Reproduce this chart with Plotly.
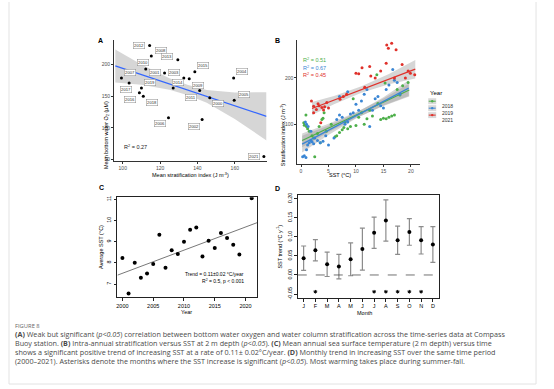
import plotly.graph_objects as go

W, H = 554, 389
def fx(p): return p / W
def fy(p): return 1 - p / H

# ---------------- Panel A data ----------------
a_years = ["2000", "2001", "2002", "2003", "2004", "2005", "2006", "2007", "2008", "2009", "2010",
           "2011", "2012", "2013", "2014", "2015", "2016", "2017", "2018", "2019", "2021"]
a_strat = [146.6, 122.4, 142.5, 132.7, 159.4, 159.7, 124.5, 99.3, 115.3, 135.6, 112.3,
           141.2, 114.4, 129.5, 127.0, 138.6, 108.9, 103.4, 111.0, 110.0, 175.6]
a_oxygen = [147.4, 186.5, 113.0, 178.6, 178.6, 143.7, 116.1, 178.6, 213.5, 177.6, 192.7,
            158.9, 229.7, 207.3, 163.0, 188.6, 155.2, 170.8, 150.0, 163.0, 55.0]
a_fit_x = [96, 110, 125, 135, 145, 160, 177]
a_fit_y = [197.7, 184.0, 169.2, 159.4, 149.6, 134.9, 118.2]
a_ci_upper = [223.7, 200.0, 178.2, 167.4, 159.6, 155.9, 156.2]
a_ci_lower = [171.7, 168.0, 160.2, 151.4, 139.6, 113.9, 80.2]
# label offsets (styling, pixels)
a_lab_dx = [7, -8, -7, -8, 7, 8, -7, 7, 8, 7, -2, -7, -9, -9, 4, 7, -8, -3, 7, 7, -8]
a_lab_dy = [-5, 0, -6, 5, 6, 5, -5, 5, 5, -6, 6, -6, 0, 3, 5, 6, -6, -6, -6, 5, 0]

# ---------------- Panel B data ----------------
b_sst_2018 = [0.9, 0.5, 0.6, 1.0, 1.2, 1.5, 2.5, 2.0, 2.3, 3.0, 3.3, 3.5, 3.8, 4.0, 4.2, 4.6, 5.5,
              6.2, 6.5, 7.0, 7.5, 7.8, 8.0, 8.5, 9.0, 9.5, 10.0, 10.5, 11.0, 11.5, 12.0, 12.5,
              13.0, 13.8, 14.5, 15.0, 15.5, 16.0, 16.5, 17.0, 17.5, 18.0, 18.5, 19.5, 15.3, 14.0]
b_str_2018 = [120, 103, 98, 95, 90, 85, 30, 75, 70, 80, 95, 60, 110, 113, 125, 85, 100,
              73, 75, 82, 88, 93, 105, 90, 95, 155, 97, 115, 125, 100, 112, 130,
              118, 207, 110, 113, 112, 115, 118, 120, 175, 163, 183, 190, 189, 145]
b_sst_2019 = [0.3, 0.6, 0.9, 1.0, 1.2, 1.5, 1.8, 2.0, 2.3, 0.8, 1.0, 1.3, 1.8, 2.5, 3.0, 3.5, 4.0,
              5.0, 4.5, 6.0, 6.5, 7.0, 7.5, 8.0, 8.5, 9.0, 9.5, 10.0, 10.5, 11.0, 11.5, 12.0,
              12.5, 13.0, 13.5, 14.0, 14.5, 15.0, 15.5, 16.0, 16.7, 17.0, 17.5, 18.0, 7.0, 8.5]
b_str_2019 = [30, 32, 28, 45, 55, 60, 65, 62, 58, 105, 100, 95, 85, 70, 65, 60, 63,
              55, 75, 70, 110, 120, 115, 100, 105, 122, 125, 143, 130, 150, 165, 175,
              95, 130, 155, 160, 140, 135, 175, 185, 218, 195, 190, 165, 160, 170]
b_sst_2021 = [1.9, 2.3, 2.3, 2.8, 3.1, 3.3, 3.6, 3.8, 4.1, 4.3, 4.7, 5.0, 7.1, 7.7, 8.3, 10.0,
              10.5, 11.1, 11.6, 12.5, 12.7, 13.5, 15.5, 15.6, 15.9, 16.5, 17.3, 18.4, 19.5,
              19.9, 20.7, 19.0, 17.0, 14.5]
b_str_2021 = [150, 139, 125, 132, 144, 140, 103, 136, 131, 138, 147, 135, 154, 160, 165, 210,
              209, 222, 180, 225, 204, 200, 232, 271, 264, 275, 261, 229, 215,
              210, 207, 200, 200, 215]
b_fit_x_2018 = [0.2, 5, 10, 15, 19.7]
b_fit_y_2018 = [65.0, 91.8, 119.7, 147.6, 173.9]
b_hw_2018 = [15, 9, 6, 8, 14]
b_fit_x_2019 = [0.2, 5, 10, 15, 19.6]
b_fit_y_2019 = [57.0, 87.0, 118.2, 149.4, 178.0]
b_hw_2019 = [18, 10, 6, 9, 17]
b_fit_x_2021 = [2, 6, 11, 16, 20.8]
b_fit_y_2021 = [134, 152, 175, 197.5, 219]
b_hw_2021 = [14, 9, 7, 11, 20]
b_r2 = ["R<sup>2</sup> = 0.51", "R<sup>2</sup> = 0.67", "R<sup>2</sup> = 0.45"]
b_years = ["2018", "2019", "2021"]

# ---------------- Panel C data ----------------
c_year = [2000, 2001, 2002, 2003, 2004, 2005, 2006, 2007, 2008, 2009, 2010,
          2011, 2012, 2013, 2014, 2015, 2016, 2017, 2018, 2019, 2021]
c_sst = [8.23, 6.55, 8.0, 7.3, 7.5, 7.95, 9.33, 7.77, 8.6, 8.42, 9.0,
         9.56, 9.67, 8.3, 9.04, 8.7, 9.41, 9.17, 8.86, 8.39, 11.05]
c_fit_x = [1999.2, 2021.9]
c_fit_y = [7.42, 9.90]

# ---------------- Panel D data ----------------
d_month = list(range(1, 13))
d_month_labels = ["J", "F", "M", "A", "M", "J", "J", "A", "S", "O", "N", "D"]
d_trend = [0.044, 0.065, 0.028, 0.022, 0.041, 0.068, 0.111, 0.143, 0.091, 0.113, 0.091, 0.080]
d_err = [0.032, 0.028, 0.032, 0.032, 0.043, 0.055, 0.041, 0.054, 0.037, 0.035, 0.036, 0.047]
d_signif = [False, True, False, False, False, False, True, True, True, True, True, False]

COL = {"2018": "#4DAF4A", "2019": "#3A86D4", "2021": "#E0312B"}
FONT = "Liberation Sans, Arial, sans-serif"

fig = go.Figure()

# Panel A
fig.add_trace(go.Scatter(x=a_fit_x + a_fit_x[::-1], y=a_ci_upper + a_ci_lower[::-1], fill="toself",
                         fillcolor="rgba(153,153,153,0.4)", line=dict(width=0), mode="lines",
                         hoverinfo="skip", showlegend=False, xaxis="x", yaxis="y"))
fig.add_trace(go.Scatter(x=a_fit_x, y=a_fit_y, mode="lines", line=dict(color="#3366FF", width=1.2),
                         showlegend=False, xaxis="x", yaxis="y"))
fig.add_trace(go.Scatter(x=a_strat, y=a_oxygen, mode="markers", marker=dict(color="black", size=3),
                         showlegend=False, xaxis="x", yaxis="y"))

# Panel B
for yr, xs, ys, fxs, fys, hw in [
        ("2018", b_sst_2018, b_str_2018, b_fit_x_2018, b_fit_y_2018, b_hw_2018),
        ("2019", b_sst_2019, b_str_2019, b_fit_x_2019, b_fit_y_2019, b_hw_2019),
        ("2021", b_sst_2021, b_str_2021, b_fit_x_2021, b_fit_y_2021, b_hw_2021)]:
    up = [a + b for a, b in zip(fys, hw)]
    lo = [a - b for a, b in zip(fys, hw)]
    fig.add_trace(go.Scatter(x=fxs + fxs[::-1], y=up + lo[::-1], fill="toself",
                             fillcolor="rgba(153,153,153,0.4)", line=dict(width=0), mode="lines",
                             hoverinfo="skip", showlegend=False, xaxis="x2", yaxis="y2"))
for yr, xs, ys, fxs, fys in [
        ("2018", b_sst_2018, b_str_2018, b_fit_x_2018, b_fit_y_2018),
        ("2019", b_sst_2019, b_str_2019, b_fit_x_2019, b_fit_y_2019),
        ("2021", b_sst_2021, b_str_2021, b_fit_x_2021, b_fit_y_2021)]:
    fig.add_trace(go.Scatter(x=xs, y=ys, mode="markers", marker=dict(color=COL[yr], size=3),
                             showlegend=False, xaxis="x2", yaxis="y2"))
    fig.add_trace(go.Scatter(x=fxs, y=fys, mode="lines", line=dict(color=COL[yr], width=1.2),
                             showlegend=False, xaxis="x2", yaxis="y2"))

# Panel C
fig.add_trace(go.Scatter(x=c_fit_x, y=c_fit_y, mode="lines", line=dict(color="#555555", width=0.8),
                         showlegend=False, xaxis="x3", yaxis="y3"))
fig.add_trace(go.Scatter(x=c_year, y=c_sst, mode="markers", marker=dict(color="black", size=4),
                         showlegend=False, xaxis="x3", yaxis="y3"))

# Panel D
fig.add_trace(go.Scatter(x=d_month, y=d_trend, mode="markers", marker=dict(color="black", size=4),
                         error_y=dict(type="data", array=d_err, color="#8c8c8c", thickness=1.2, width=2.5),
                         showlegend=False, xaxis="x4", yaxis="y4"))
sig_x = [m for m, s in zip(d_month, d_signif) if s]
fig.add_trace(go.Scatter(x=sig_x, y=[-0.044] * len(sig_x), mode="markers",
                         marker=dict(symbol="asterisk", color="black", size=3, line=dict(width=1, color="black")),
                         showlegend=False, xaxis="x4", yaxis="y4"))

gg_tick = dict(size=5, color="#4D4D4D", family=FONT)
r_tick = dict(size=5.5, color="black", family=FONT)
common = dict(showgrid=False, zeroline=False, showline=True, ticks="outside")

layout = dict(
    width=W, height=H, margin=dict(l=0, r=0, t=0, b=0),
    paper_bgcolor="white", plot_bgcolor="white", showlegend=False,
    font=dict(family=FONT),
    xaxis=dict(domain=[fx(113), fx(266)], range=[95.2, 177], tickvals=[100, 120, 140, 160],
               anchor="y", linecolor="#333", linewidth=0.6, ticklen=2, tickcolor="#333",
               tickwidth=0.6, tickfont=gg_tick, **common),
    yaxis=dict(domain=[fy(160.7), fy(38)], range=[47, 239], tickvals=[50, 100, 150, 200],
               anchor="x", linecolor="#333", linewidth=0.6, ticklen=2, tickcolor="#333",
               tickwidth=0.6, tickfont=gg_tick, **common),
    xaxis2=dict(domain=[fx(296.7), fx(420)], range=[-0.7, 21.7], tickvals=[0, 5, 10, 15, 20],
                anchor="y2", linecolor="#333", linewidth=0.6, ticklen=2, tickcolor="#333",
                tickwidth=0.6, tickfont=gg_tick, **common),
    yaxis2=dict(domain=[fy(163.3), fy(38.3)], range=[14, 282], tickvals=[100, 200],
                anchor="x2", linecolor="#333", linewidth=0.6, ticklen=2, tickcolor="#333",
                tickwidth=0.6, tickfont=gg_tick, **common),
    xaxis3=dict(domain=[fx(116.7), fx(256.7)], range=[1999.2, 2021.9], tickvals=[2000, 2005, 2010, 2015, 2020],
                anchor="y3", mirror=True, linecolor="#222", linewidth=0.8, ticklen=3, tickcolor="#222",
                tickwidth=0.7, tickfont=r_tick, **common),
    yaxis3=dict(domain=[fy(297.7), fy(196.7)], range=[6.37, 11.1], tickvals=[7, 8, 9, 10, 11],
                tickangle=-90, anchor="x3", mirror=True, linecolor="#222", linewidth=0.8, ticklen=3,
                tickcolor="#222", tickwidth=0.7, tickfont=r_tick, **common),
    xaxis4=dict(domain=[fx(297.3), fx(438.3)], range=[0.5, 12.48], tickvals=d_month, ticktext=d_month_labels,
                anchor="y4", mirror=True, linecolor="#222", linewidth=0.8, ticklen=3, tickcolor="#222",
                tickwidth=0.7, tickfont=r_tick, **common),
    yaxis4=dict(domain=[fy(298.3), fy(194.3)], range=[-0.0604, 0.2104],
                tickvals=[-0.05, 0, 0.05, 0.10, 0.15, 0.20],
                ticktext=["-0.05", "0.00", "0.05", "0.10", "0.15", "0.20"],
                tickangle=-90, anchor="x4", mirror=True, linecolor="#222", linewidth=0.8, ticklen=3,
                tickcolor="#222", tickwidth=0.7, tickfont=r_tick, **common),
)
fig.update_layout(**layout)

ann = []
# Panel A year labels
for yr, x, y, dx, dy in zip(a_years, a_strat, a_oxygen, a_lab_dx, a_lab_dy):
    ann.append(dict(x=x, y=y, xref="x", yref="y", text=yr, showarrow=False, xshift=dx * 1.2, yshift=dy * 1.1,
                    font=dict(size=4.2, color="#333", family=FONT), bgcolor="white",
                    bordercolor="#888", borderwidth=0.5, borderpad=0.6))
ann.append(dict(x=fx(121), y=fy(146), xref="paper", yref="paper", xanchor="left", text="R<sup>2</sup> = 0.27",
                showarrow=False, font=dict(size=5.5, color="#222", family=FONT)))

# Panel B R2 labels
for i, (yr, t) in enumerate(zip(b_years, b_r2)):
    ann.append(dict(x=fx(301), y=fy(53 + 8 * i), xref="paper", yref="paper", xanchor="left", text=t,
                    showarrow=False, font=dict(size=5.5, color=COL[yr], family=FONT)))

# Panel C texts
ann.append(dict(x=fx(245), y=fy(279), xref="paper", yref="paper", xanchor="right",
                text="Trend = 0.11±0.02 °C/year", showarrow=False, font=dict(size=5, color="black", family=FONT)))
ann.append(dict(x=fx(245), y=fy(286.5), xref="paper", yref="paper", xanchor="right",
                text="R<sup>2</sup> = 0.5, p < 0.001", showarrow=False, font=dict(size=5, color="black", family=FONT)))

# Panel letters
for letter, x, y in [("A", 95, 33), ("B", 277, 33), ("C", 96, 187), ("D", 277, 188)]:
    ann.append(dict(x=fx(x), y=fy(y), xref="paper", yref="paper", text="<b>%s</b>" % letter,
                    showarrow=False, font=dict(size=7, color="black", family=FONT)))

# Axis titles
def title(text, x, y, angle=0, size=5.5):
    ann.append(dict(x=fx(x), y=fy(y), xref="paper", yref="paper", text=text, textangle=angle,
                    showarrow=False, font=dict(size=size, color="black", family=FONT)))

title("Mean bottom water O<sub>2</sub> (μM)", 99.5, 98, -90)
title("Mean stratification index (J m<sup>-3</sup>)", 190, 174)
title("Stratification index (J m<sup>-3</sup>)", 282, 100, -90)
title("SST (°C)", 340, 174)
title("Average SST (°C)", 95, 247, -90)
title("Year", 186, 317)
title("SST trend (°C y<sup>-1</sup>)", 279, 246, -90)
title("Month", 364, 318)

# Manual legend for panel B
ann.append(dict(x=fx(428), y=fy(87), xref="paper", yref="paper", xanchor="left", text="Year",
                showarrow=False, font=dict(size=6, color="black", family=FONT)))
shapes = []
for i, yr in enumerate(b_years):
    yc = 100 + 7 * i
    shapes.append(dict(type="rect", xref="paper", yref="paper", x0=fx(428), x1=fx(436), y0=fy(yc + 3),
                       y1=fy(yc - 3), fillcolor="#D9D9D9", line=dict(width=0)))
    shapes.append(dict(type="line", xref="paper", yref="paper", x0=fx(428.5), x1=fx(435.5), y0=fy(yc),
                       y1=fy(yc), line=dict(color=COL[yr], width=1)))
    shapes.append(dict(type="circle", xref="paper", yref="paper", x0=fx(430.8), x1=fx(433.2), y0=fy(yc + 1.2),
                       y1=fy(yc - 1.2), fillcolor=COL[yr], line=dict(width=0)))
    ann.append(dict(x=fx(440), y=fy(yc), xref="paper", yref="paper", xanchor="left", text=yr,
                    showarrow=False, font=dict(size=5, color="#333", family=FONT)))

# dashed zero line for panel D
shapes.append(dict(type="line", xref="x4 domain", yref="y4", x0=0, x1=1, y0=0, y1=0,
                   line=dict(color="#333", width=0.7, dash="dash")))

# card border
shapes.append(dict(type="line", xref="paper", yref="paper", x0=fx(8), x1=fx(536), y0=fy(385), y1=fy(385),
                   line=dict(color="#E3E3E3", width=1)))
shapes.append(dict(type="line", xref="paper", yref="paper", x0=fx(536), x1=fx(536), y0=fy(385), y1=1,
                   line=dict(color="#E3E3E3", width=1)))
shapes.append(dict(type="line", xref="paper", yref="paper", x0=fx(8), x1=fx(8), y0=fy(385), y1=1,
                   line=dict(color="#E3E3E3", width=1)))

# Caption
CAP = "Open Sans, Noto Sans, sans-serif"
ann.append(dict(x=fx(12), y=fy(332.5), xref="paper", yref="paper", xanchor="left", text="FIGURE 8",
                showarrow=False, font=dict(size=5.8, color="#666", family=CAP)))
cap_lines = [
    "<b>(A)</b> Weak but significant (<i>p&lt;0.05</i>) correlation between bottom water oxygen and water column stratification across the time-series data at Compass",
    "Buoy station. <b>(B)</b> Intra-annual stratification versus SST at 2 m depth (<i>p&lt;0.05</i>). <b>(C)</b> Mean annual sea surface temperature (2 m depth) versus time",
    "shows a significant positive trend of increasing SST at a rate of 0.11± 0.02°C/year. <b>(D)</b> Monthly trend in increasing SST over the same time period",
    "(2000–2021). Asterisks denote the months where the SST increase is significant (<i>p&lt;0.05</i>). Most warming takes place during summer-fall.",
]
for i, line in enumerate(cap_lines):
    ann.append(dict(x=fx(12), y=fy(341.7 + 9.1 * i), xref="paper", yref="paper", xanchor="left", text=line,
                    showarrow=False, font=dict(size=7.2, color="#4a4a4a", family=CAP)))

fig.update_layout(annotations=ann, shapes=shapes)
fig.write_html("out.html", config={"displayModeBar": False},
               post_script="document.body.style.margin='0';document.body.style.overflow='hidden';")
